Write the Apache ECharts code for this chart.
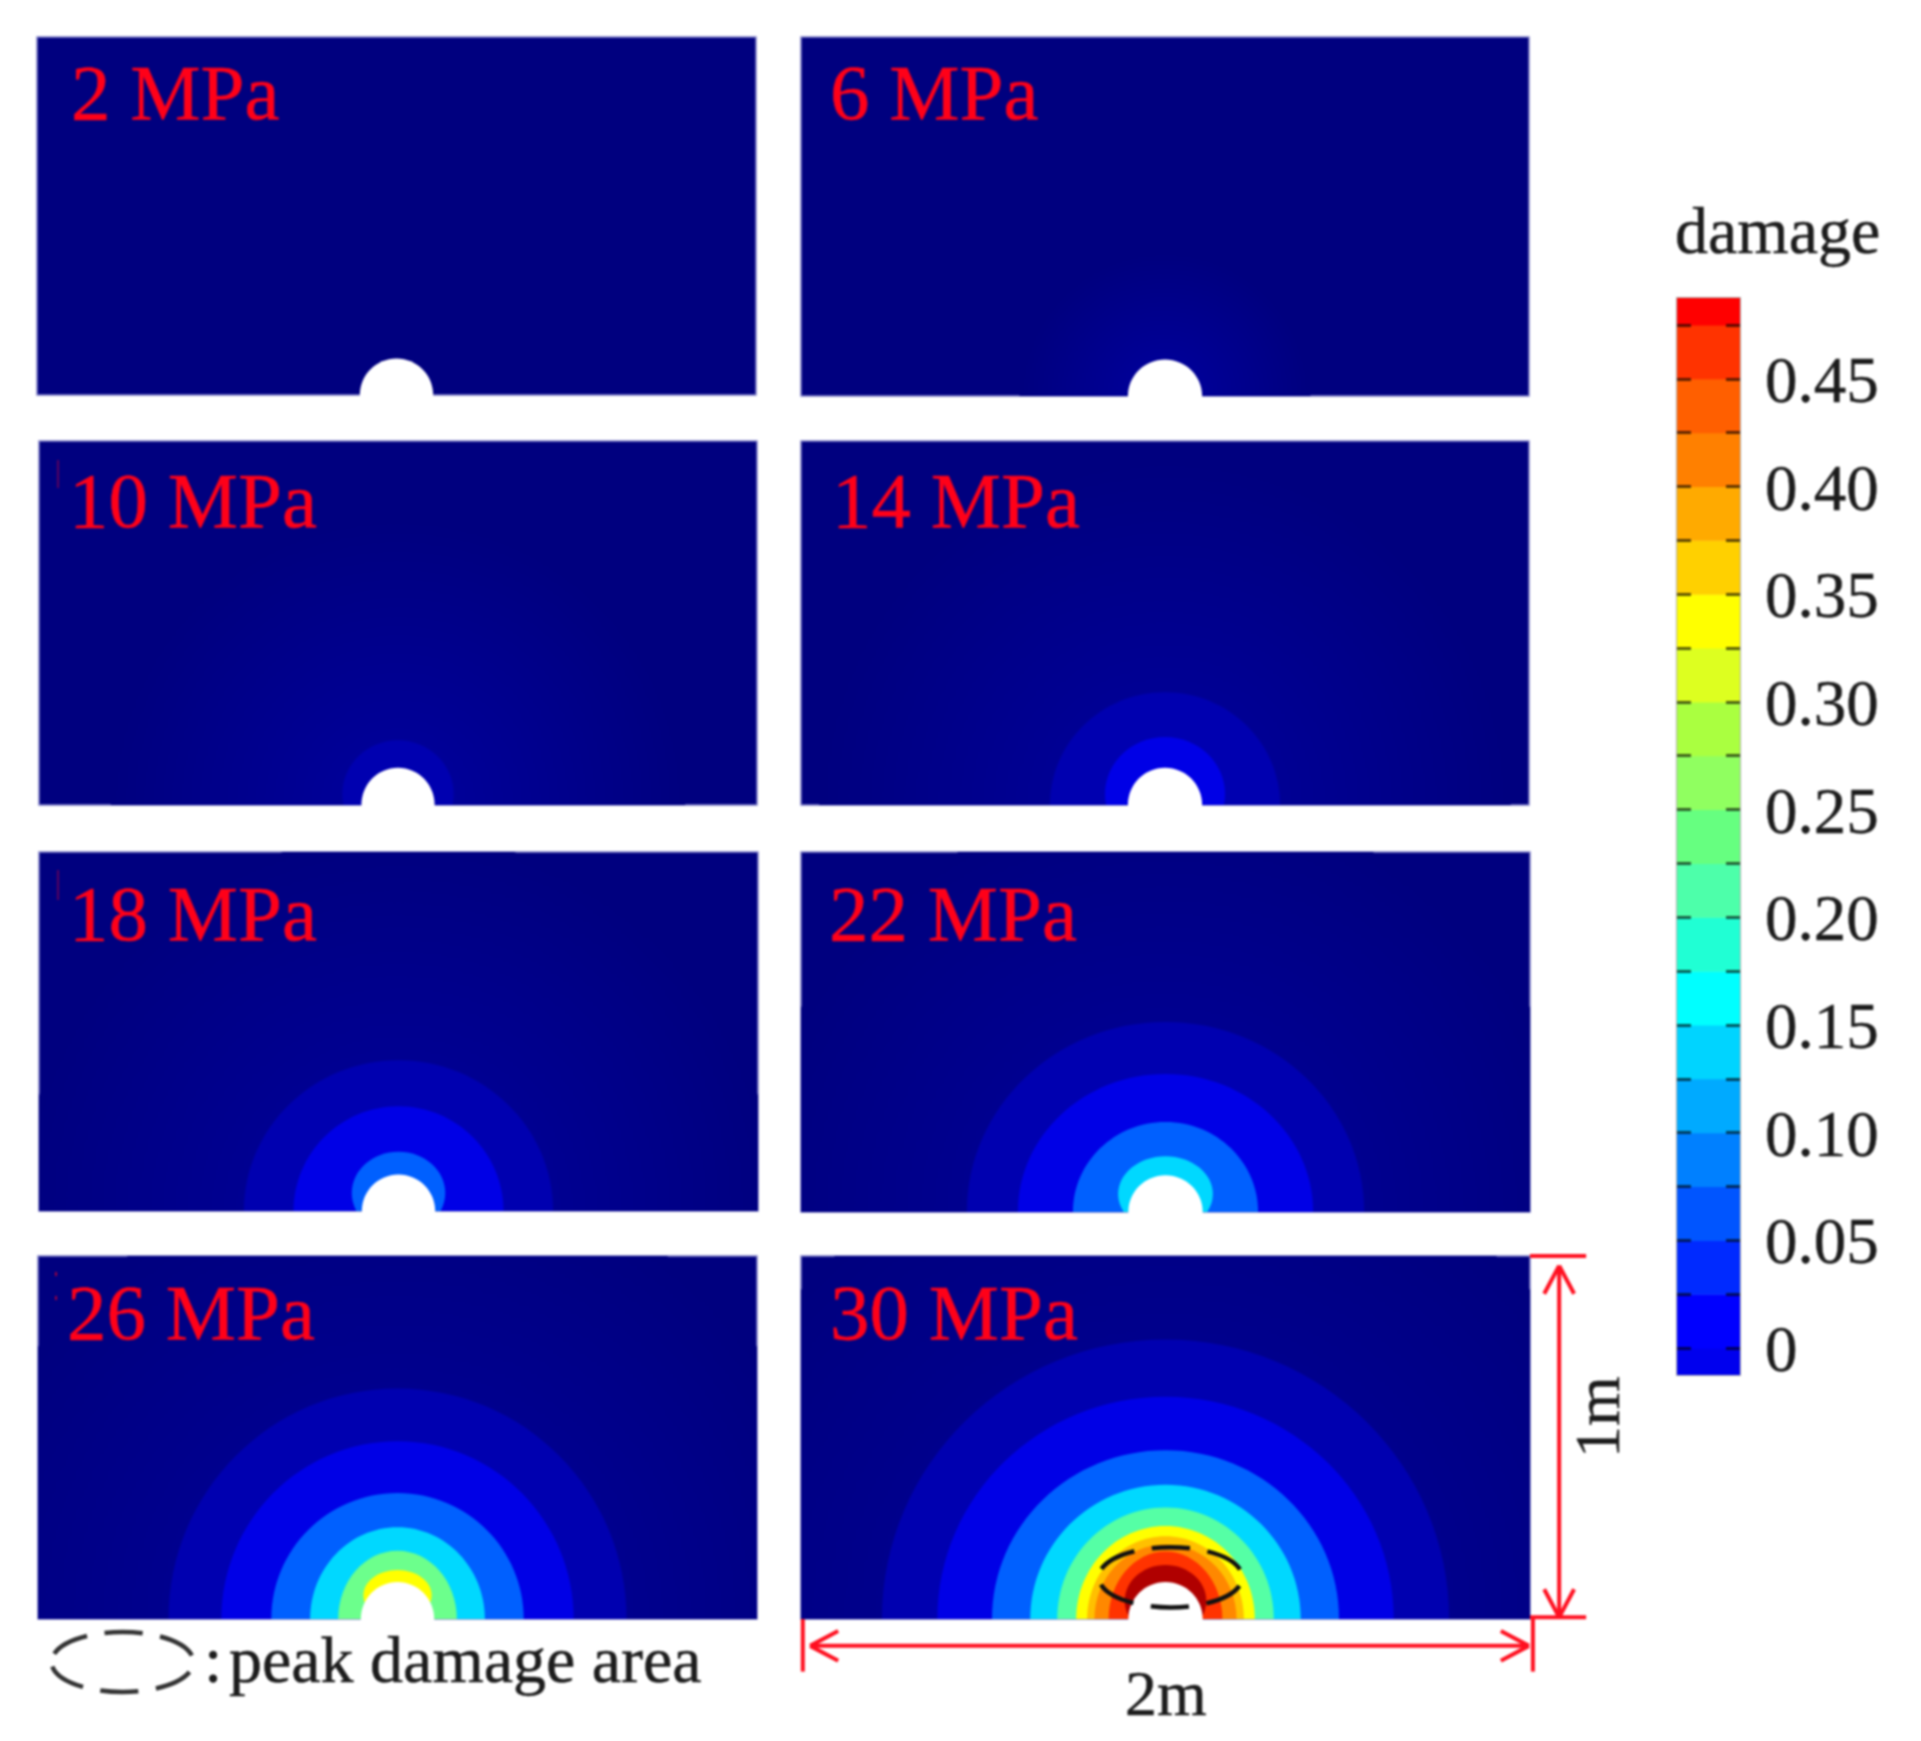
<!DOCTYPE html>
<html>
<head>
<meta charset="utf-8">
<title>damage</title>
<style>
html,body{margin:0;padding:0;background:#fff;}
#c{width:1921px;height:1741px;filter:blur(1px);}
</style>
<script src="https://cdn.jsdelivr.net/npm/echarts@6/dist/echarts.min.js"></script>
</head>
<body>
<div id="c"></div>
<script>
// ---- data ----
const panelLabels = ['2 MPa','6 MPa','10 MPa','14 MPa','18 MPa','22 MPa','26 MPa','30 MPa'];
const levelColors = [
  {type:'radial',x:0.5,y:0.5,r:0.5,colorStops:[{offset:0,color:'#00009E'},{offset:1,color:'#00007F'}]},
  '#000090','#000096','#0000B0','#0000E6','#0060FF','#00D8FF','#55FFA5','#FFFF00','#FFC000','#FF8800','#FF3300','#B00000','#6CFF8C'
];
// contour bands: [level, half width (m), top height (m), centre height (m)]
const bands2MPa = [];
const bands6MPa = [[0,0.4,0.4,0]];
const bands10MPa = [[0,0.8,0.8,0],[3,0.155,0.178,0.03]];
const bands14MPa = [[0,0.95,0.95,0],[3,0.316,0.31,0],[4,0.165,0.187,0.03]];
const bands18MPa = [[0,1.05,1.05,0],[3,0.43,0.42,0],[4,0.292,0.292,0],[5,0.13,0.165,0.05]];
const bands22MPa = [[0,1.15,1.15,0],[3,0.545,0.528,0],[4,0.405,0.383,0],[5,0.254,0.25,0],[6,0.13,0.155,0.05]];
const bands26MPa = [[0,1.25,1.25,0],[3,0.637,0.635,0],[4,0.49,0.49,0],[5,0.351,0.347,0],[6,0.243,0.253,0],[13,0.165,0.188,0],[8,0.095,0.135,0.065]];
const bands30MPa = [[0,1.35,1.35,0],[3,0.778,0.77,0],[4,0.626,0.612,0],[5,0.476,0.465,0],[6,0.371,0.37,0],[7,0.297,0.307,0],[8,0.245,0.256,0],[9,0.215,0.228,0],[10,0.195,0.205,0],[11,0.156,0.186,0],[12,0.112,0.149,0.05]];
const panelBands = [bands2MPa,bands6MPa,bands10MPa,bands14MPa,bands18MPa,bands22MPa,bands26MPa,bands30MPa];
const holeRadius = [0.102];
// peak damage ellipse: [cx, cy, rx, ry] (m)
const peakArea = [[0.014,0.115,0.197,0.083]];
// dimension lines in metres: [x1,y1,x2,y2]
const dimensionLines = [
  [-0.975,-0.074,0.997,-0.074],[-0.995,0,-0.995,-0.145],[1.008,0,1.008,-0.145],
  [-0.975,-0.074,-0.898,-0.033],[-0.975,-0.074,-0.898,-0.115],[0.997,-0.074,0.92,-0.033],[0.997,-0.074,0.92,-0.115],
  [1.08,0.005,1.08,0.973],[1.0,1.0,1.154,1.0],[1.0,0.005,1.154,0.005],
  [1.08,0.973,1.039,0.896],[1.08,0.973,1.121,0.896],[1.08,0.005,1.039,0.082],[1.08,0.005,1.121,0.082]
];
// colour bar
const colorbarLow  = [-0.0125,0,0.025,0.05,0.075,0.1,0.125,0.15,0.175,0.2,0.225,0.25,0.275,0.3,0.325,0.35,0.375,0.4,0.425,0.45,0.475];
const colorbarHigh = [0,0.025,0.05,0.075,0.1,0.125,0.15,0.175,0.2,0.225,0.25,0.275,0.3,0.325,0.35,0.375,0.4,0.425,0.45,0.475,0.4875];
const colorbarColors = ['#0000EE','#0000FF','#002AFF','#0055FF','#0080FF','#00AAFF','#00D4FF','#00FFFF','#20FFD4','#4DFFAA','#66FF80','#90FF60','#AAFF40','#DDFF20','#FFFF00','#FFD000','#FFAA00','#FF8000','#FF5F00','#FF3300','#FF0000'];
const tickValues = [0,0.025,0.05,0.075,0.1,0.125,0.15,0.175,0.2,0.225,0.25,0.275,0.3,0.325,0.35,0.375,0.4,0.425,0.45,0.475];
const labelValues = [0,0.05,0.1,0.15,0.2,0.25,0.3,0.35,0.4,0.45];
const tickLabels = ['0','0.05','0.10','0.15','0.20','0.25','0.30','0.35','0.40','0.45'];

// ---- layout ----
const W = 1921, H = 1741;
const panelBoxes = [
  [37,37,756,395],[801,37,1529,396],
  [39,441,757,805],[801,441,1529,805],
  [39,852,758,1211],[801,852,1530,1212],
  [38,1256,757,1619],[801,1256,1530,1619]
];
const labelPos = [[71,119],[830,119],[69,527],[832,527],[69,940],[829,940],[67,1339],[830,1339]];
const SERIF = '"Liberation Serif","Times New Roman",serif';
const BASE = 0.765;
function textAt(text,x,baseline,size,color){
  return {text,left:x,top:baseline-size*BASE,padding:0,textStyle:{fontFamily:SERIF,fontSize:size,fontWeight:'normal',color,lineHeight:size,textBorderColor:color,textBorderWidth:0.5}};
}

const grids=[],xAxes=[],yAxes=[],series=[],titles=[];
panelBoxes.forEach((b,i)=>{
  grids.push({left:b[0],top:b[1],width:b[2]-b[0],height:b[3]-b[1],show:true,backgroundColor:'#00007F',borderColor:'#8080C8',borderWidth:1.5,containLabel:false});
  xAxes.push({type:'value',gridIndex:i,min:-1,max:1,show:false});
  yAxes.push({type:'value',gridIndex:i,min:0,max:1,show:false});
  series.push({
    type:'custom',name:panelLabels[i],xAxisIndex:i,yAxisIndex:i,clip:true,silent:true,z:2,
    data:panelBands[i],
    encode:{x:1,y:2},
    renderItem:(p,api)=>{
      const c=api.coord([0,api.value(3)]);
      const s=api.size([api.value(1),api.value(2)-api.value(3)]);
      return {type:'ellipse',shape:{cx:c[0],cy:c[1],rx:s[0],ry:s[1]},style:{fill:levelColors[api.value(0)]}};
    }
  });
  series.push({
    type:'custom',name:panelLabels[i]+' hole',xAxisIndex:i,yAxisIndex:i,clip:false,silent:true,z:3,
    data:holeRadius.map(r=>[0,r]),
    encode:{x:0,y:1},
    renderItem:(p,api)=>{
      const c=api.coord([0,0]);
      const s=api.size([api.value(1),api.value(1)]);
      return {type:'ellipse',shape:{cx:c[0],cy:c[1],rx:s[0],ry:s[1]},style:{fill:'#fff'}};
    }
  });
  titles.push(textAt(panelLabels[i],labelPos[i][0],labelPos[i][1],79,'#FF0018'));
});

// peak damage ellipse on the 30 MPa panel
series.push({
  type:'custom',name:'peak damage area',xAxisIndex:7,yAxisIndex:7,clip:false,silent:true,z:4,
  data:peakArea,encode:{x:0,y:1},
  renderItem:(p,api)=>{
    const c=api.coord([api.value(0),api.value(1)]);
    const s=api.size([api.value(2),api.value(3)]);
    return {type:'ellipse',shape:{cx:c[0],cy:c[1],rx:s[0],ry:s[1]},style:{fill:'none',stroke:'#111',lineWidth:4.5,lineDash:[38,17.7],lineDashOffset:46.8}};
  }
});
// dimension lines
series.push({
  type:'custom',name:'dimensions',xAxisIndex:7,yAxisIndex:7,clip:false,silent:true,z:5,
  data:dimensionLines,encode:{x:0,y:1},
  renderItem:(p,api)=>{
    const a=api.coord([api.value(0),api.value(1)]);
    const b=api.coord([api.value(2),api.value(3)]);
    return {type:'line',shape:{x1:a[0],y1:a[1],x2:b[0],y2:b[1]},style:{stroke:'#FF1020',lineWidth:4}};
  }
});

// colour bar
const cb = panelBoxes.length;
grids.push({left:1677,top:298,width:63,height:1077,show:true,backgroundColor:'#fff',borderColor:'#B0B0B0',borderWidth:2});
xAxes.push({type:'value',gridIndex:cb,min:0,max:1,show:false});
const tickStyle={show:true,inside:true,length:14,customValues:tickValues,lineStyle:{color:'rgba(0,0,0,0.62)',width:3}};
yAxes.push({type:'value',gridIndex:cb,position:'left',min:-0.0125,max:0.4875,z:10,
  axisLine:{show:false},splitLine:{show:false},axisLabel:{show:false},axisTick:tickStyle});
yAxes.push({type:'value',gridIndex:cb,position:'right',min:-0.0125,max:0.4875,z:10,
  axisLine:{show:false},splitLine:{show:false},axisTick:tickStyle,
  axisLabel:{show:true,customValues:labelValues,margin:25,
    rich:{t:{fontFamily:SERIF,fontSize:65,lineHeight:65,color:'#1c1c1c',padding:[12,0,0,0],textBorderColor:'#1c1c1c',textBorderWidth:0.4}},
    formatter:v=>'{t|'+tickLabels[labelValues.findIndex(t=>Math.abs(t-v)<1e-6)]+'}'}});
series.push({
  type:'custom',name:'damage',xAxisIndex:cb,yAxisIndex:cb,clip:true,silent:true,z:2,
  data:colorbarLow.map((l,i)=>[l,colorbarHigh[i],i]),
  encode:{y:[0,1]},
  renderItem:(p,api)=>{
    const a=api.coord([0,api.value(1)]);
    const b=api.coord([1,api.value(0)]);
    return {type:'rect',shape:{x:a[0],y:a[1],width:b[0]-a[0],height:b[1]-a[1]+0.5},style:{fill:colorbarColors[api.value(2)]}};
  }
});

titles.push(textAt('damage',1675,253,66,'#1c1c1c'));
titles.push(textAt('2m',1125,1715,64,'#1c1c1c'));
titles.push(textAt(':',204,1682,66,'#1c1c1c'));
titles.push(textAt('peak damage area',229,1682,66,'#1c1c1c'));

const chart = echarts.init(document.getElementById('c'),null,{width:W,height:H,renderer:'canvas'});
chart.setOption({
  animation:false,backgroundColor:'#fff',tooltip:{show:false},legend:{show:false},
  title:titles,grid:grids,xAxis:xAxes,yAxis:yAxes,series:series,
  graphic:[
    {type:'ellipse',z:20,shape:{cx:122.5,cy:1662,rx:71,ry:30},style:{fill:'none',stroke:'#333',lineWidth:4.5,lineDash:[38,17.7],lineDashOffset:46.8},silent:true},
    {type:'text',z:20,x:1634,y:1417,rotation:Math.PI/2,style:{text:'1m',font:'64px '+SERIF,fill:'#1c1c1c',stroke:'#1c1c1c',lineWidth:0.4,align:'center',verticalAlign:'bottom'},silent:true},
    {type:'line',z:20,shape:{x1:58,y1:460,x2:58,y2:488},style:{stroke:'#7a0050',lineWidth:1.5},silent:true},
    {type:'line',z:20,shape:{x1:58,y1:870,x2:58,y2:900},style:{stroke:'#7a0050',lineWidth:1.5},silent:true},
    {type:'line',z:20,shape:{x1:56,y1:1272,x2:56,y2:1302},style:{stroke:'#a00040',lineWidth:2,lineDash:[4,20]},silent:true}
  ]
});
</script>
</body>
</html>
